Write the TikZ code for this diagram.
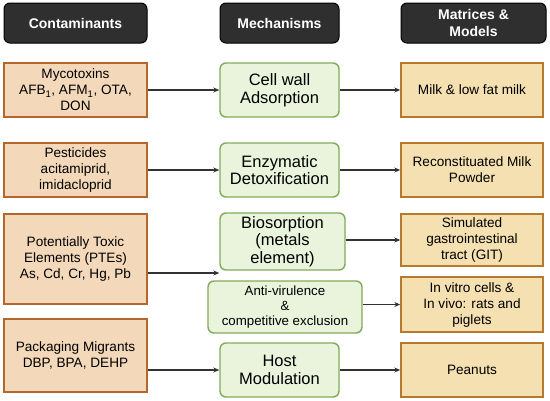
\documentclass[tikz,border=0pt]{standalone}
\usepackage{fontspec}
\setmainfont{Liberation Sans}
\usepackage{tikz}
\usetikzlibrary{arrows.meta, calc}

\definecolor{headgray}{HTML}{2F2F2F}
\definecolor{contfill}{HTML}{F3D9BA}
\definecolor{contline}{HTML}{B5662C}
\definecolor{mechfill}{HTML}{EAF4DC}
\definecolor{mechline}{HTML}{82AB57}
\definecolor{matfill}{HTML}{F4E0B0}
\definecolor{matline}{HTML}{B8792C}
\definecolor{arrgray}{HTML}{333333}

\begin{document}
\begin{tikzpicture}[x=1pt, y=-1pt,
    header/.style={fill=headgray, draw=black, line width=1pt, rounded corners=6pt, text=white, align=center,
      font=\fontsize{14}{17}\selectfont\bfseries, inner sep=0pt},
    contbox/.style={fill=contfill, draw=contline, line width=1.4pt, align=center,
      font=\fontsize{13.6}{16}\selectfont, inner sep=0pt, minimum width=143pt},
    mechbox/.style={fill=mechfill, draw=mechline, line width=1.4pt, rounded corners=6pt, align=center,
      font=\fontsize{16.5}{17.5}\selectfont, inner sep=0pt},
    matbox/.style={fill=matfill, draw=matline, line width=1.4pt, align=center,
      font=\fontsize{13.6}{16}\selectfont, inner sep=0pt, minimum width=142pt},
    flow/.style={draw=arrgray, line width=1.1pt, -{Stealth[length=6pt, width=5pt]}}]

      \useasboundingbox (0,0) rectangle (550,400);

      % Column headers
      \node[header, minimum width=143pt, minimum height=40pt] (hcont) at (75.5, 23) {Contaminants};
      \node[header, minimum width=119pt, minimum height=40pt] (hmech) at (279.5, 23) {Mechanisms};
      \node[header, minimum width=145pt, minimum height=40pt] (hmat) at (473.5, 23) {Matrices \&\\Models};

      % Contaminants
      \node[contbox, minimum height=54pt] (myco) at (75.5, 90) {Mycotoxins\\AFB\textsubscript{1}, AFM\textsubscript{1}, OTA,\\DON};
      \node[contbox, minimum height=54pt] (pest) at (75.5, 170) {Pesticides\\acitamiprid,\\imidacloprid};
      \node[contbox, minimum height=90pt] (ptes) at (75.5, 259) {Potentially Toxic\\Elements (PTEs)\\As, Cd, Cr, Hg, Pb};
      \node[contbox, minimum height=73pt] (pack) at (75.5, 355.5) {Packaging Migrants\\DBP, BPA, DEHP};

      % Mechanisms
      \node[mechbox, minimum width=119pt, minimum height=54pt] (adsorb) at (279.5, 90) {Cell wall\\Adsorption};
      \node[mechbox, minimum width=119pt, minimum height=54pt] (detox) at (279.5, 170) {Enzymatic\\Detoxification};
      \node[mechbox, minimum width=125pt, minimum height=57pt] (biosorb) at (282.5, 241.5) {Biosorption\\(metals\\element)};
      \node[mechbox, minimum width=154pt, minimum height=52pt, font=\fontsize{13.3}{15}\selectfont] (antivir) at (285, 307) {Anti-virulence\\\&\\competitive exclusion};
      \node[mechbox, minimum width=119pt, minimum height=54pt] (host) at (279.5, 370) {Host\\Modulation};

      % Matrices and models
      \node[matbox, minimum height=54pt] (milk) at (472, 90) {Milk \& low fat milk};
      \node[matbox, minimum height=54pt] (powder) at (472, 170) {Reconstituated Milk\\Powder};
      \node[matbox, minimum height=52pt] (git) at (472, 240) {Simulated\\gastrointestinal\\tract (GIT)};
      \node[matbox, minimum height=55pt] (vivo) at (472, 304.5) {In vitro cells \&\\In vivo: rats and\\piglets};
      \node[matbox, minimum height=54pt] (nuts) at (472, 370) {Peanuts};

      % Contaminant -> mechanism
      \draw[flow] (myco) -- (adsorb);
      \draw[flow] (pest) -- (detox);
      \draw[flow] ([yshift=-14pt]ptes.east) -- ([yshift=-14pt]ptes.east -| biosorb.west);
      \draw[flow] (pack.east |- host.west) -- (host.west);

      % Mechanism -> matrix
      \draw[flow] (adsorb) -- (milk);
      \draw[flow] (detox) -- (powder);
      \draw[flow] (biosorb.east |- git.west) -- (git.west);
      \draw[flow] (antivir.east |- vivo.west) -- (vivo.west);
      \draw[flow] (host) -- (nuts);

    \end{tikzpicture}
\end{document}
